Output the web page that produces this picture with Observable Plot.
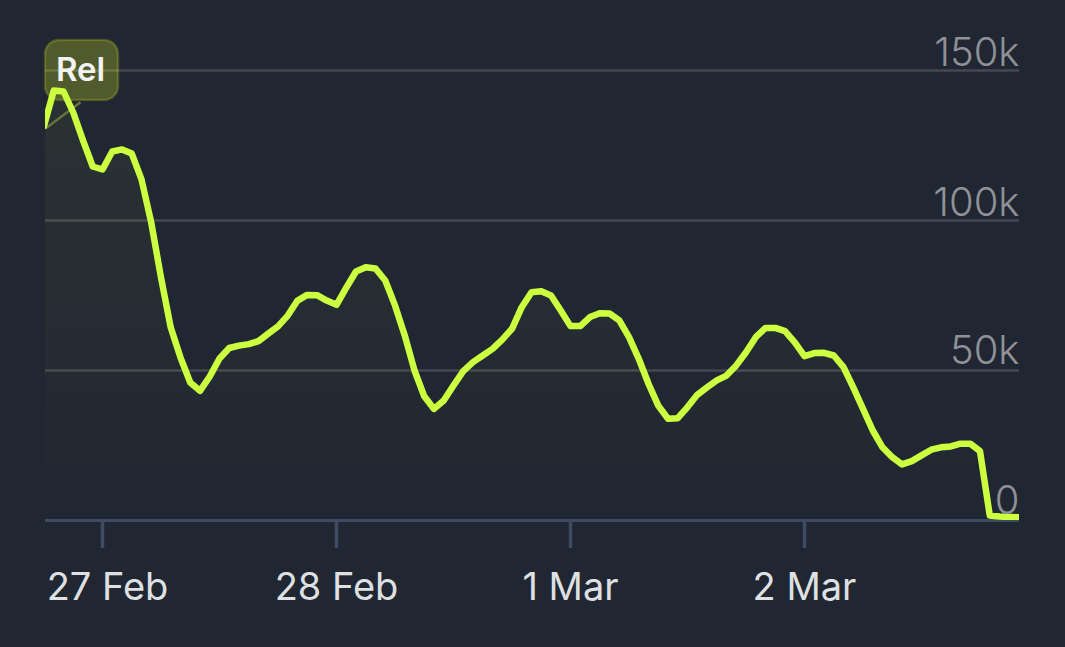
<!DOCTYPE html>
<html>
<head>
<meta charset="utf-8">
<script src="https://cdn.jsdelivr.net/npm/d3@7"></script>
<script src="https://cdn.jsdelivr.net/npm/@observablehq/plot@0.6"></script>
<style>
html,body{margin:0;padding:0;background:#202632;overflow:hidden}
svg{display:block}
</style>
</head>
<body>
<div id="chart"></div>
<script>
// Hourly values in thousands, starting 26 Feb 18:00
const values = [
131.5,143.3,143,136,126.7,118,117,123,123.7,122.3,
113.7,99.3,81,64.3,54.3,46,43.2,48,54,57.5,
58.3,58.8,59.8,62.3,64.7,68.3,73.3,75.2,75.1,73.3,
71.9,77.6,83,84.4,84,80,71.7,61.7,50,41.4,
37.2,40,45,49.8,52.8,55,57.2,60.3,63.9,71.1,
76.1,76.4,75,70,64.8,64.8,67.8,69.1,69,66.7,
61.1,53.9,45.6,38.3,33.9,34.1,37.8,41.9,44.4,46.7,
48.3,51.7,56.1,61.1,64.2,64.2,63.1,59.4,54.8,55.8,
55.9,55,51.1,44.4,37.2,30,24.4,21.1,18.7,19.8,
21.7,23.6,24.4,24.7,25.6,25.6,23.1,1.7,1.3,1.2,1.1];
const hour = h => new Date(Date.UTC(2023, 1, 26, 18) + h * 3600e3);
const xTicks = [hour(6), hour(30), hour(54), hour(78)];
const yTicksLow = [0, 50];
const yTicksHigh = [100, 150];
const gridValues = [50, 100, 150];
const annotationLabel = "Rel";
const data = values.map((v, i) => ({t: hour(i), v}));
const fmtX = d3.utcFormat("%-d %b");
const fmtY = d => d === 0 ? "0" : d + "k";
const FONT = "Inter, sans-serif";
const LINE = "#cdff41";
const yLabel = {text: fmtY, frameAnchor: "right", textAnchor: "end", fill: "#8f9196", fontSize: 40, fontWeight: 300, fontFamily: FONT};
const xLabel = {text: fmtX, frameAnchor: "bottom", dy: 79, fill: "#dfe0e2", fontSize: 38, fontWeight: 400, fontFamily: FONT};

const plot = Plot.plot({
  width: 1065, height: 647,
  marginLeft: 45, marginRight: 46, marginTop: 70, marginBottom: 127,
  style: {background: "#202632", fontFamily: FONT},
  x: {type: "utc", domain: [hour(0.154), hour(100.05)], axis: null},
  y: {domain: [0, 150], axis: null},
  marks: [
    () => {
      const ns = "http://www.w3.org/2000/svg";
      const defs = document.createElementNS(ns, "defs");
      defs.innerHTML = `<linearGradient id="fade" gradientUnits="userSpaceOnUse" x1="0" y1="90" x2="0" y2="520">
        <stop offset="0" stop-color="${LINE}" stop-opacity="0.055"/>
        <stop offset="1" stop-color="${LINE}" stop-opacity="0.005"/></linearGradient>`;
      return defs;
    },
    Plot.ruleY(gridValues, {stroke: "#45484f", strokeWidth: 2.5}),
    Plot.ruleY([0], {stroke: "#3f4a63", strokeWidth: 3}),
    Plot.axisX(xTicks, {tickSize: 28, stroke: "#3f4a63", strokeWidth: 3.5, tickFormat: () => "", label: null}),
    Plot.areaY(data, {x: "t", y: "v", fill: "url(#fade)", clip: true}),
    Plot.rect([annotationLabel], {
      x1: hour(0.154), x2: hour(7.64), y1: 140, y2: 160,
      fill: "#d4e81f", fillOpacity: 0.27, stroke: "#d4e81f", strokeOpacity: 0.22, strokeWidth: 2.5, rx: 14
    }),
    Plot.link([annotationLabel], {
      x1: hour(0.154), y1: 130.7, x2: hour(3.74), y2: 139.4,
      stroke: "#66733e", strokeWidth: 2.5
    }),
    Plot.text([annotationLabel], {
      x: hour(3.75), y: 150, text: d => d, fill: "#f2f2f2",
      fontSize: 33, fontWeight: 600, fontFamily: FONT
    }),
    Plot.line(data, {x: "t", y: "v", stroke: LINE, strokeWidth: 6.5, clip: true, strokeLinejoin: "round"}),
    Plot.text(yTicksLow, {y: d => d, dy: -19, ...yLabel}),
    Plot.text(yTicksHigh, {y: d => d, dy: -17, ...yLabel}),
    Plot.text(xTicks.slice(1), {x: d => d, ...xLabel}),
    Plot.text(xTicks.slice(0, 1), {x: d => d, dx: 5, ...xLabel})
  ]
});
document.getElementById("chart").append(plot);
</script>
</body>
</html>
